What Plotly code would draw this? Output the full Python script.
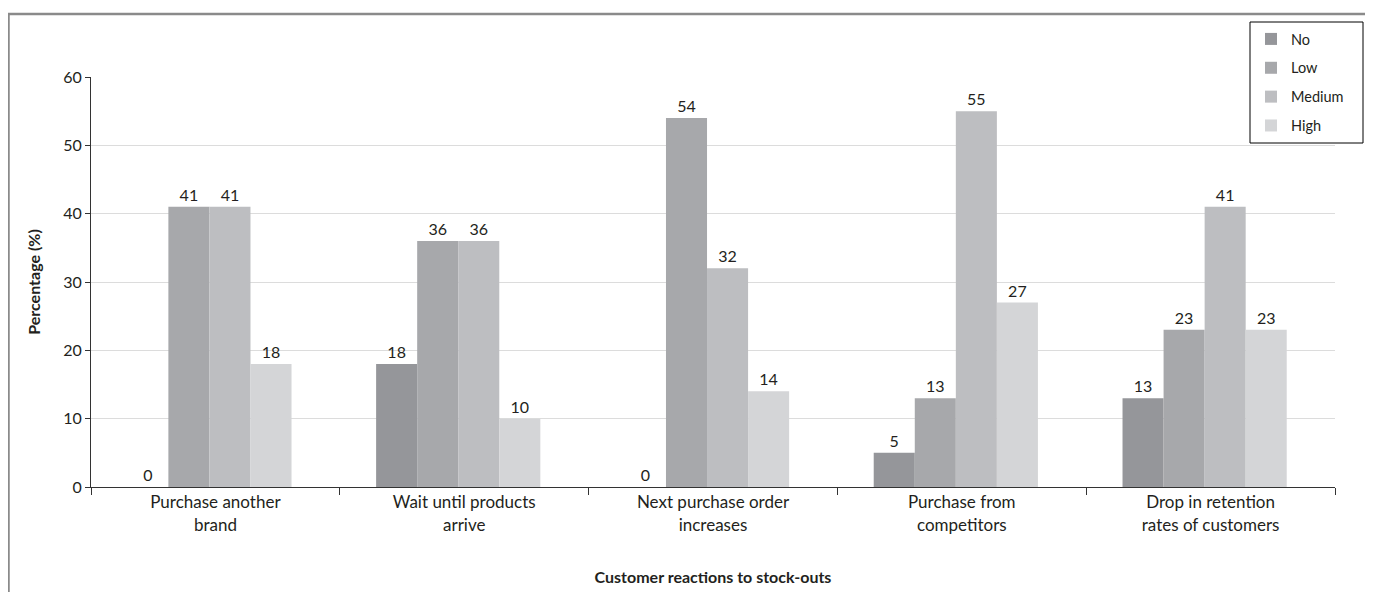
import plotly.graph_objects as go

categories = ["Purchase another<br>brand", "Wait until products<br>arrive", "Next purchase order<br>increases",
              "Purchase from<br>competitors", "Drop in retention<br>rates of customers"]
series_names = ["No", "Low", "Medium", "High"]
no_vals = [0, 18, 0, 5, 13]
low_vals = [41, 36, 54, 13, 23]
medium_vals = [41, 36, 32, 55, 41]
high_vals = [18, 10, 14, 27, 23]
y_ticks = [0, 10, 20, 30, 40, 50, 60]

colors = ["#95969a", "#a7a8ab", "#bdbec1", "#d4d5d7"]
values = [no_vals, low_vals, medium_vals, high_vals]

# page has an 8px body margin; coordinates below are page pixels
OFF = 8
W, H = 1365, 584
L, R, T, B = 91, 1335, 77, 487

def px(x):
    return (x - L) / (R - L)

def py(y):
    return (B - y) / (B - T)

bar_w = 0.165
offsets = [-0.354, -0.189, -0.024, 0.141]

fig = go.Figure()
for i, (name, vals) in enumerate(zip(series_names, values)):
    fig.add_trace(go.Bar(
        x=categories, y=vals, name=name,
        width=bar_w, offset=offsets[i],
        marker=dict(color=colors[i], line=dict(width=0)),
        text=[str(v) for v in vals], textposition="outside",
        textfont=dict(size=16, color="#231f20", family="Lato"),
        cliponaxis=False, legendgroup=name,
    ))

fig.update_layout(
    width=W, height=H,
    margin=dict(l=L - OFF, r=W - (R - OFF), t=T - OFF, b=H - (B - OFF)),
    paper_bgcolor="white", plot_bgcolor="white",
    barmode="overlay",
    font=dict(family="Lato", size=16, color="#231f20"),
    legend=dict(
        x=px(1251), y=py(23), xanchor="left", yanchor="top",
        borderwidth=0, bgcolor="rgba(0,0,0,0)",
        font=dict(size=14.5, family="Lato"), tracegroupgap=7,
        itemwidth=30,
    ),
    showlegend=True,
)
fig.update_xaxes(
    showline=True, linecolor="#333333", linewidth=1,
    ticks="outside", tickson="boundaries", ticklen=7, tickcolor="#333333",
    tickfont=dict(size=17, family="Lato"), automargin=False,
    title=dict(text="<b>Customer reactions to stock-outs</b>", font=dict(size=16, family="Lato"), standoff=38),
)
fig.update_yaxes(
    range=[0, 60], tickvals=y_ticks, showline=True, linecolor="#333333", linewidth=1,
    ticks="outside", ticklen=5, tickcolor="#333333",
    showgrid=True, gridcolor="#dcdcdc", gridwidth=1, zeroline=False,
    tickfont=dict(size=16, family="Lato"), automargin=False,
    title=dict(text="<b>Percentage (%)</b>", font=dict(size=16, family="Lato"), standoff=18),
)

# legend box
fig.add_shape(type="rect", xref="paper", yref="paper",
              x0=px(1250), x1=px(1363), y0=py(143), y1=py(22),
              line=dict(color="#000000", width=1), fillcolor="white", layer="above")

# outer frame (left, top, right edges)
x0, x1 = px(8.5), px(1369.5)
y0, y1 = py(600), py(14)
fig.add_shape(type="path", xref="paper", yref="paper",
              path=f"M {x0} {y0} L {x0} {y1} L {x1} {y1} L {x1} {y0}",
              line=dict(color="#8a8a8a", width=2.5))

fig.write_html("out.html")
